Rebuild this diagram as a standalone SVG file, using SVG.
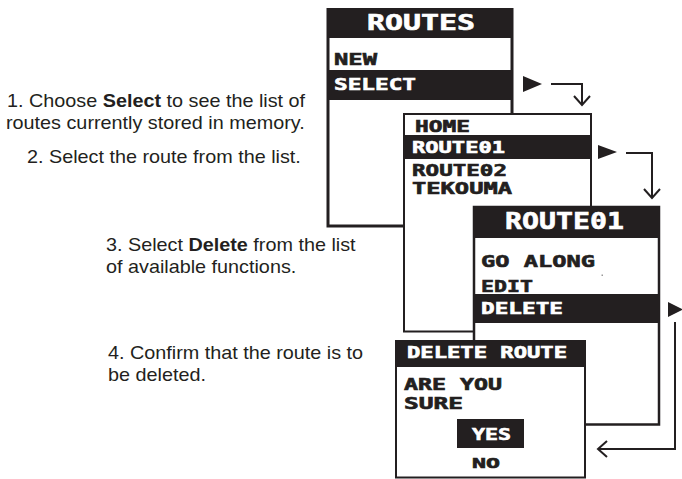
<svg xmlns="http://www.w3.org/2000/svg" width="682" height="479" viewBox="0 0 682 479">
<style>
.scr{fill:#fff;stroke:#231f20}
.blk{fill:#231f20}
.px{font-family:"DejaVu Sans Mono",monospace;font-weight:bold;fill:#231f20;stroke:#231f20;stroke-width:0.6}
.pw{font-family:"DejaVu Sans Mono",monospace;font-weight:bold;fill:#fff;stroke:#fff;stroke-width:0.6}
.cap{font-family:"Liberation Sans",Arial,sans-serif;font-size:18px;fill:#231f20}
.b{font-weight:bold}
.ln{fill:none;stroke:#231f20;stroke-width:2}
.tri{fill:#231f20}
</style>
<rect width="682" height="479" fill="#fff"/>

<g id="captions">
<g transform="translate(7 107) scale(1.1 1)"><text class="cap" x="0" y="0">1. Choose <tspan class="b">Select</tspan> to see the list of</text></g>
<g transform="translate(6 129) scale(1.1 1)"><text class="cap" x="0" y="0">routes currently stored in memory.</text></g>
<g transform="translate(27 163) scale(1.1 1)"><text class="cap" x="0" y="0">2. Select the route from the list.</text></g>
<g transform="translate(106 251) scale(1.1 1)"><text class="cap" x="0" y="0">3. Select <tspan class="b">Delete</tspan> from the list</text></g>
<g transform="translate(106 273) scale(1.1 1)"><text class="cap" x="0" y="0">of available functions.</text></g>
<g transform="translate(108 359) scale(1.1 1)"><text class="cap" x="0" y="0">4. Confirm that the route is to</text></g>
<g transform="translate(108 381) scale(1.1 1)"><text class="cap" x="0" y="0">be deleted.</text></g>
</g>

<g id="screen-routes">
<rect class="scr" x="328" y="9.5" width="184" height="216.5" stroke-width="3"/>
<rect class="blk" x="327" y="8" width="186" height="30"/>
<rect class="blk" x="327" y="70" width="186" height="30"/>
<text class="pw" x="367" y="30" font-size="20.5" textLength="108" lengthAdjust="spacingAndGlyphs">ROUTES</text>
<text class="px" x="334" y="65" font-size="16.5" textLength="43" lengthAdjust="spacingAndGlyphs">NEW</text>
<text class="pw" x="334" y="90" font-size="16.5" textLength="82" lengthAdjust="spacingAndGlyphs">SELECT</text>
</g>

<g id="screen-list">
<rect class="scr" x="404" y="114" width="187" height="217.5" stroke-width="2"/>
<rect class="blk" x="403" y="135" width="189" height="24"/>
<text class="px" x="415" y="132" font-size="15.5" textLength="55" lengthAdjust="spacingAndGlyphs">HOME</text>
<text class="pw" x="412" y="153" font-size="16" textLength="93" lengthAdjust="spacingAndGlyphs">ROUTE01</text>
<text class="px" x="412" y="176" font-size="15.5" textLength="95" lengthAdjust="spacingAndGlyphs">ROUTE02</text>
<text class="px" x="412" y="194" font-size="15.5" textLength="100" lengthAdjust="spacingAndGlyphs">TEKOUMA</text>
</g>

<g id="screen-route01">
<rect class="scr" x="474" y="207" width="185" height="217.5" stroke-width="2.5"/>
<rect class="blk" x="473" y="206" width="187" height="32"/>
<rect class="blk" x="473" y="294" width="187" height="29"/>
<text class="pw" x="505" y="229" font-size="23" textLength="119" lengthAdjust="spacingAndGlyphs">ROUTE01</text>
<text class="px" x="481" y="267" font-size="16.5" textLength="114" lengthAdjust="spacingAndGlyphs">GO ALONG</text>
<text class="px" x="481" y="292" font-size="16.5" textLength="52" lengthAdjust="spacingAndGlyphs">EDIT</text>
<text class="pw" x="481" y="314" font-size="16.5" textLength="82" lengthAdjust="spacingAndGlyphs">DELETE</text>
<rect x="601.5" y="274.5" width="1.5" height="1.5" fill="#999"/>
</g>

<g id="screen-delete">
<rect class="scr" x="396" y="341" width="189" height="136.5" stroke-width="2"/>
<rect class="blk" x="395" y="340" width="191" height="27"/>
<rect class="blk" x="457" y="419" width="67" height="29"/>
<text class="pw" x="407" y="358" font-size="15" textLength="160" lengthAdjust="spacingAndGlyphs">DELETE ROUTE</text>
<text class="px" x="404" y="390" font-size="15" textLength="98" lengthAdjust="spacingAndGlyphs">ARE YOU</text>
<text class="px" x="404" y="409" font-size="15" textLength="59" lengthAdjust="spacingAndGlyphs">SURE</text>
<text class="pw" x="472" y="440" font-size="16" textLength="39" lengthAdjust="spacingAndGlyphs">YES</text>
<text class="px" x="472" y="468" font-size="14" textLength="28" lengthAdjust="spacingAndGlyphs">NO</text>
</g>

<g id="connectors">
<polygon class="tri" points="523,76 542,84 523,92"/>
<path class="ln" d="M551,84 H582 V104"/>
<path class="ln" d="M574,96 L582,105 L590,96"/>
<polygon class="tri" points="598,145 617,152 598,159"/>
<path class="ln" d="M626,153 H652 V197"/>
<path class="ln" d="M644,189 L652,198 L660,189"/>
<polygon class="tri" points="668,302 683,309.5 668,317"/>
<path class="ln" d="M675,322 V449 H598"/>
<path class="ln" d="M607,441 L598,449 L607,457"/>
</g>
</svg>
